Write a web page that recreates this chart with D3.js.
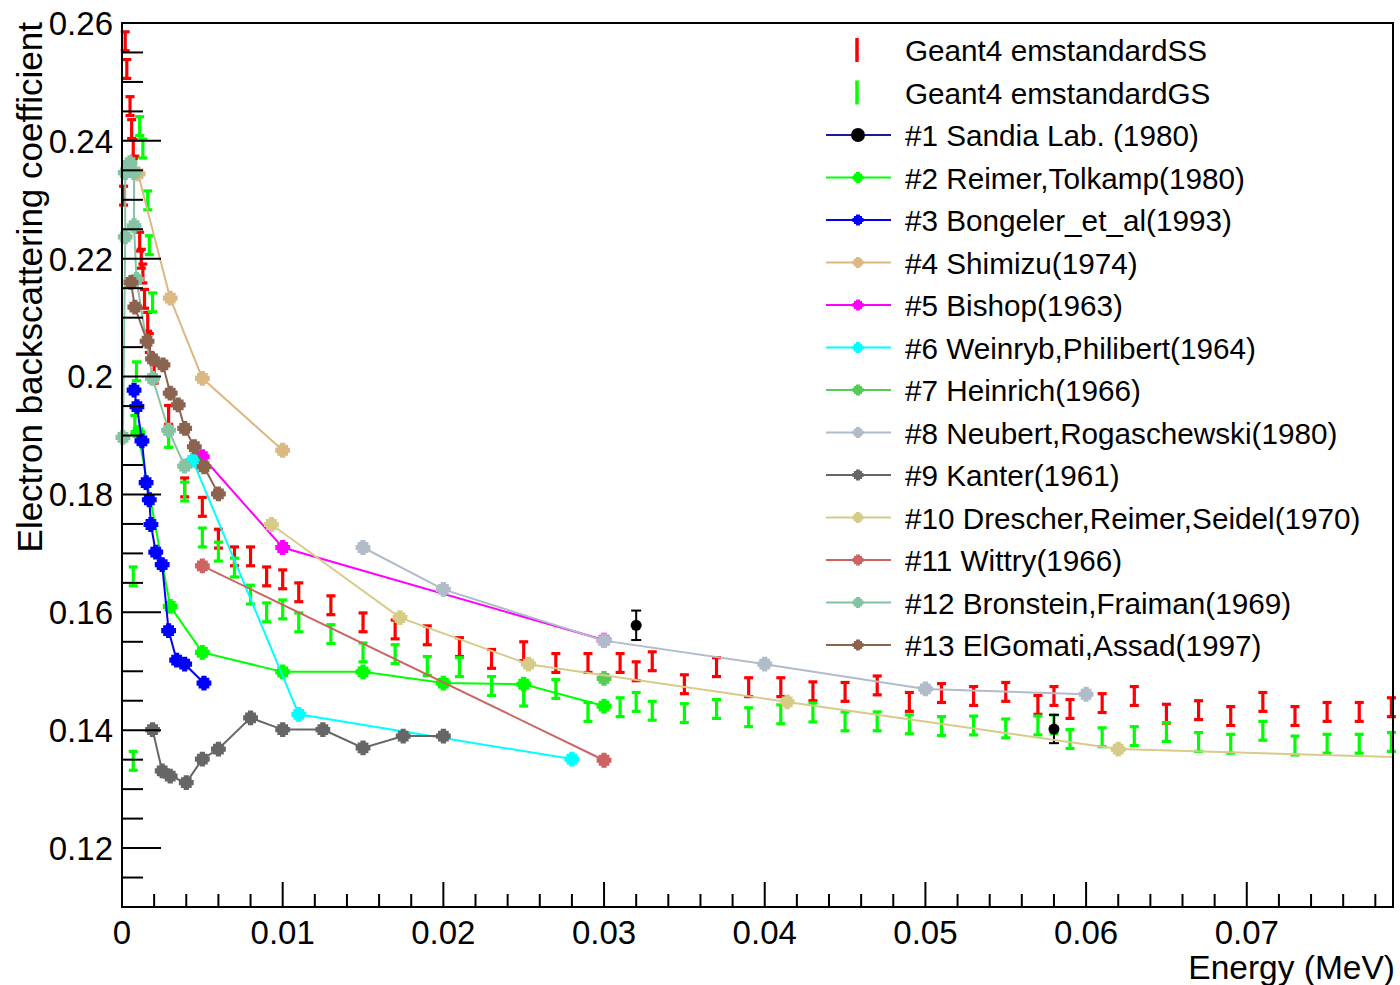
<!DOCTYPE html>
<html><head><meta charset="utf-8">
<script src="https://cdn.jsdelivr.net/npm/d3@7"></script>
<style>
body{margin:0;background:#fff;}
text{font-family:"Liberation Sans",Arial,Helvetica,sans-serif;fill:#000;}
</style>
</head><body>
<svg id="chart" width="1400" height="985"></svg>
<script>
// ---------------- data ----------------
const xDomain = [0, 0.0791];
const yDomain = [0.11, 0.26];
const xTickValues = [0, 0.01, 0.02, 0.03, 0.04, 0.05, 0.06, 0.07];
const xTickLabels = ["0", "0.01", "0.02", "0.03", "0.04", "0.05", "0.06", "0.07"];
const yTickValues = [0.12, 0.14, 0.16, 0.18, 0.20, 0.22, 0.24, 0.26];
const yTickLabels = ["0.12", "0.14", "0.16", "0.18", "0.2", "0.22", "0.24", "0.26"];
const xTitle = "Energy (MeV)";
const yTitle = "Electron backscattering coefficient";

// Geant4 emstandardSS (red)
const ssEnergy = [0.0002,0.0003,0.0005,0.0006,0.0007,0.0008,0.0001,0.0011,0.0012,0.0013,0.0014,0.0016,0.0017,0.0020,
  0.0029,0.0039,0.005,0.006,0.007,0.008,0.009,0.010,0.011,0.013,0.015,0.017,0.019,0.021,0.023,0.025,0.027,0.029,
  0.031,0.032,0.033,0.035,0.037,0.039,0.041,0.043,0.045,0.047,0.049,0.051,0.053,0.055,0.057,0.058,0.059,0.061,
  0.063,0.065,0.067,0.069,0.071,0.073,0.075,0.077,0.079];
const ssCoef = [0.2569,0.2522,0.2459,0.2420,0.2386,0.2358,0.2307,0.2229,0.2200,0.2175,0.2132,0.2093,0.2057,0.2005,
  0.1935,0.1812,0.1779,0.1725,0.1695,0.1695,0.1661,0.1656,0.1634,0.1612,0.1583,0.1571,0.1561,0.1541,0.1521,0.1534,0.1514,0.1514,
  0.1514,0.1500,0.1517,0.1478,0.1507,0.1473,0.1473,0.1466,0.1465,0.1476,0.1448,0.1463,0.1458,0.1465,0.1443,0.1458,0.1436,0.1446,
  0.1458,0.1428,0.1434,0.1424,0.1448,0.1424,0.1431,0.1431,0.1439];
const ssError = 0.0016;

// Geant4 emstandardGS (green)
const gsEnergy = [0.0007,0.0007,0.0008,0.0009,0.0011,0.0013,0.0016,0.0017,0.0019,
  0.0029,0.0039,0.005,0.006,0.007,0.008,0.009,0.010,0.011,
  0.013,0.015,0.017,0.019,0.021,0.023,0.025,0.027,0.029,
  0.031,0.032,0.033,0.035,0.037,0.039,0.041,0.043,0.045,0.047,0.049,
  0.051,0.053,0.055,0.057,0.058,0.059,0.061,0.063,0.065,0.067,0.069,0.071,0.073,0.075,0.077,0.079];
const gsCoef = [0.1348,0.1661,0.1918,0.2009,0.2425,0.2387,0.2299,0.2223,0.2126,
  0.1896,0.1805,0.1727,0.1703,0.1676,0.1630,0.1600,0.1605,0.1583,
  0.1563,0.1532,0.1529,0.1509,0.1507,0.1475,0.1457,0.1470,0.1431,
  0.1439,0.1448,0.1433,0.1429,0.1436,0.1422,0.1427,0.1430,0.1415,0.1415,0.1410,
  0.1407,0.1408,0.1403,0.1408,0.1410,0.1385,0.1388,0.1390,0.1397,0.1380,0.1377,0.1399,0.1374,0.1377,0.1377,0.1380];
const gsError = 0.0016;

// Experimental data sets
const expNames = ["#1 Sandia Lab. (1980)", "#2 Reimer,Tolkamp(1980)", "#3 Bongeler_et_al(1993)", "#4 Shimizu(1974)",
  "#5 Bishop(1963)", "#6 Weinryb,Philibert(1964)", "#7 Heinrich(1966)", "#8 Neubert,Rogaschewski(1980)",
  "#9 Kanter(1961)", "#10 Drescher,Reimer,Seidel(1970)", "#11 Wittry(1966)", "#12 Bronstein,Fraiman(1969)",
  "#13 ElGomati,Assad(1997)"];
const expLineColors = ["#1a1aa0", "#00ff00", "#0000ff", "#dcb883", "#ff00ff", "#00ffff", "#55cc55", "#b0bcc8",
  "#666666", "#d6cc88", "#cd6464", "#84c4a2", "#8b6450"];
const expMarkerColors = ["#000000", "#00ff00", "#0000ff", "#dcb883", "#ff00ff", "#00ffff", "#55cc55", "#b0bcc8",
  "#666666", "#d6cc88", "#cd6464", "#84c4a2", "#8b6450"];

const e1Energy = [0.032, 0.058];
const e1Coef   = [0.1578, 0.1402];
const e1Error  = [0.0025, 0.0024];
const e2Energy = [0.001, 0.003, 0.005, 0.010, 0.015, 0.020, 0.025, 0.030];
const e2Coef   = [0.1905, 0.1610, 0.1532, 0.1499, 0.1499, 0.1480, 0.1478, 0.1441];
const e3Energy = [0.00075, 0.00093, 0.00124, 0.0015, 0.0017, 0.0018, 0.0021, 0.0025, 0.0029, 0.0034, 0.0039, 0.0051];
const e3Coef   = [0.1977, 0.1949, 0.1891, 0.1820, 0.1791, 0.1749, 0.1702, 0.1681, 0.1569, 0.1519, 0.1512, 0.1480];
const e4Energy = [0.001, 0.003, 0.005, 0.010];
const e4Coef   = [0.2344, 0.2133, 0.1997, 0.1875];
const e5Energy = [0.005, 0.010, 0.030];
const e5Coef   = [0.1864, 0.1710, 0.1553];
const e6Energy = [0.0044, 0.011, 0.028];
const e6Coef   = [0.1858, 0.1427, 0.1351];
const e7Energy = [0.030];
const e7Coef   = [0.1488];
const e8Energy = [0.015, 0.020, 0.030, 0.040, 0.050, 0.060];
const e8Coef   = [0.1710, 0.1639, 0.1552, 0.1512, 0.1470, 0.1461];
const e9Energy = [0.0019, 0.0025, 0.003, 0.004, 0.005, 0.006, 0.008, 0.010, 0.0125, 0.015, 0.0175, 0.020];
const e9Coef   = [0.1401, 0.1331, 0.1322, 0.1311, 0.1351, 0.1368, 0.1421, 0.1401, 0.1401, 0.1370, 0.1390, 0.1390];
const e10Energy = [0.0093, 0.0173, 0.0253, 0.0414, 0.062, 0.100];
const e10Coef   = [0.1749, 0.1591, 0.1512, 0.1448, 0.1368, 0.1338];
const e11Energy = [0.005, 0.030];
const e11Coef   = [0.1679, 0.1349];
const e12Energy = [0.00006, 0.0002, 0.0002, 0.0005, 0.00075, 0.00075, 0.0009, 0.0019, 0.0029, 0.0039];
const e12Coef   = [0.1897, 0.2237, 0.2346, 0.2363, 0.2346, 0.2256, 0.2165, 0.1997, 0.1909, 0.1848];
const e13Energy = [0.00056, 0.0008, 0.00156, 0.0019, 0.00255, 0.003, 0.0035, 0.0039, 0.0045, 0.0051, 0.006];
const e13Coef   = [0.2160, 0.2118, 0.2060, 0.2030, 0.2020, 0.1972, 0.1952, 0.1912, 0.1881, 0.1847, 0.1801];

const expEnergies = [e1Energy, e2Energy, e3Energy, e4Energy, e5Energy, e6Energy, e7Energy, e8Energy, e9Energy, e10Energy, e11Energy, e12Energy, e13Energy];
const expCoefs = [e1Coef, e2Coef, e3Coef, e4Coef, e5Coef, e6Coef, e7Coef, e8Coef, e9Coef, e10Coef, e11Coef, e12Coef, e13Coef];

// ---------------- layout ----------------
const frame = {left: 122, right: 1393, top: 23, bottom: 907};
const svg = d3.select("#chart");
const x = d3.scaleLinear().domain(xDomain).range([frame.left, frame.right]);
const y = d3.scaleLinear().domain(yDomain).range([frame.bottom, frame.top]);

svg.append("rect").attr("width", 1400).attr("height", 985).attr("fill", "#fff");
svg.append("defs").append("clipPath").attr("id", "clipFrame")
  .append("rect").attr("x", frame.left).attr("y", frame.top)
  .attr("width", frame.right - frame.left).attr("height", frame.bottom - frame.top);

function crossPath(s) {
  const a = 2.6 * s, b = 5.4 * s, c = 7.4 * s;
  return `M${-a},${-c}H${a}V${-b}H${b}V${-a}H${c}V${a}H${b}V${b}H${a}V${c}H${-a}V${b}H${-b}V${a}H${-c}V${-a}H${-b}V${-b}H${-a}Z`;
}

// ---------------- error-bar series (Geant4) ----------------
function drawErrSeries(energy, coef, err, color) {
  const g = svg.append("g");
  const pts = energy.map((e, i) => ({x: e, y: coef[i]}));
  g.selectAll("line.stem").data(pts).join("line")
    .attr("x1", d => x(d.x)).attr("x2", d => x(d.x))
    .attr("y1", d => y(d.y - err)).attr("y2", d => y(d.y + err))
    .attr("stroke", color).attr("stroke-width", 3.2);
  [-1, 1].forEach(sgn => {
    g.selectAll("line.cap" + sgn).data(pts).join("line")
      .attr("x1", d => x(d.x) - 4.5).attr("x2", d => x(d.x) + 4.5)
      .attr("y1", d => y(d.y + sgn * err)).attr("y2", d => y(d.y + sgn * err))
      .attr("stroke", color).attr("stroke-width", 3.2);
  });
}
drawErrSeries(ssEnergy, ssCoef, ssError, "#ff0000");
drawErrSeries(gsEnergy, gsCoef, gsError, "#00ff00");

// ---------------- experimental series ----------------
const line = d3.line().x(d => x(d.x)).y(d => y(d.y));
expNames.forEach((name, k) => {
  const pts = expEnergies[k].map((e, i) => ({x: e, y: expCoefs[k][i]}));
  const g = svg.append("g");
  if (k === 0) {
    const errs = e1Error;
    g.selectAll("line.st").data(pts).join("line")
      .attr("x1", d => x(d.x)).attr("x2", d => x(d.x))
      .attr("y1", (d, i) => y(d.y - errs[i])).attr("y2", (d, i) => y(d.y + errs[i]))
      .attr("stroke", "#000").attr("stroke-width", 2);
    [-1, 1].forEach(sgn => {
      g.selectAll("line.c" + sgn).data(pts).join("line")
        .attr("x1", d => x(d.x) - 5).attr("x2", d => x(d.x) + 5)
        .attr("y1", (d, i) => y(d.y + sgn * errs[i])).attr("y2", (d, i) => y(d.y + sgn * errs[i]))
        .attr("stroke", "#000").attr("stroke-width", 2);
    });
    g.selectAll("circle").data(pts).join("circle")
      .attr("cx", d => x(d.x)).attr("cy", d => y(d.y)).attr("r", 5.5)
      .attr("fill", expMarkerColors[k]);
    return;
  }
  if (pts.length > 1) {
    g.append("path").datum(pts).attr("d", line)
      .attr("fill", "none").attr("stroke", expLineColors[k]).attr("stroke-width", 2)
      .attr("clip-path", "url(#clipFrame)");
  }
  g.selectAll("path.m").data(pts.filter(d => d.x <= xDomain[1])).join("path")
    .attr("class", "m")
    .attr("transform", d => `translate(${x(d.x)},${y(d.y)})`)
    .attr("d", crossPath(1)).attr("fill", expMarkerColors[k]);
});

// ---------------- frame & axes ----------------
const axisG = svg.append("g").attr("stroke", "#000").attr("stroke-width", 2);
axisG.append("rect").attr("x", frame.left).attr("y", frame.top)
  .attr("width", frame.right - frame.left).attr("height", frame.bottom - frame.top)
  .attr("fill", "none");

const yMinor = d3.range(0, 31).map(i => yDomain[0] + i * 0.005).filter(v => v <= yDomain[1] + 1e-9 && v > yDomain[0] + 1e-9);
axisG.selectAll("line.ym").data(yMinor).join("line")
  .attr("x1", frame.left).attr("y1", d => y(d)).attr("y2", d => y(d))
  .attr("x2", d => frame.left + (yTickValues.some(t => Math.abs(t - d) < 1e-9) ? 39 : 21));

const xMinor = d3.range(0, 40).map(i => i * 0.002).filter(v => v > 1e-9 && v < xDomain[1]);
axisG.selectAll("line.xm").data(xMinor).join("line")
  .attr("x1", d => x(d)).attr("x2", d => x(d)).attr("y1", frame.bottom)
  .attr("y2", d => frame.bottom - (xTickValues.some(t => Math.abs(t - d) < 1e-9) ? 25 : 13));

svg.selectAll("text.yt").data(yTickValues).join("text")
  .attr("x", 113).attr("y", d => y(d)).attr("dy", "0.36em")
  .attr("text-anchor", "end").attr("font-size", 33)
  .text((d, i) => yTickLabels[i]);
svg.selectAll("text.xt").data(xTickValues).join("text")
  .attr("x", d => x(d)).attr("y", 944)
  .attr("text-anchor", "middle").attr("font-size", 33)
  .text((d, i) => xTickLabels[i]);

svg.append("text").attr("x", 1395).attr("y", 979).attr("text-anchor", "end")
  .attr("font-size", 33.5).text(xTitle);
svg.append("text").attr("transform", "translate(42,22) rotate(-90)")
  .attr("text-anchor", "end").attr("font-size", 35).text(yTitle);

// ---------------- legend ----------------
const legendNames = ["Geant4 emstandardSS", "Geant4 emstandardGS"].concat(expNames);
const legY0 = 50, legDY = 42.5;
const leg = svg.append("g");
legendNames.forEach((name, i) => {
  const cy = legY0 + i * legDY;
  if (i < 2) {
    leg.append("line").attr("x1", 857).attr("x2", 857).attr("y1", cy - 12).attr("y2", cy + 12)
      .attr("stroke", i === 0 ? "#ff0000" : "#00ff00").attr("stroke-width", 3.5);
  } else {
    const k = i - 2;
    leg.append("line").attr("x1", 826).attr("x2", 891).attr("y1", cy).attr("y2", cy)
      .attr("stroke", expLineColors[k]).attr("stroke-width", 2);
    if (k === 0) {
      leg.append("circle").attr("cx", 858).attr("cy", cy).attr("r", 7).attr("fill", "#000");
    } else {
      leg.append("path").attr("transform", `translate(858,${cy})`).attr("d", crossPath(0.75))
        .attr("fill", expMarkerColors[k]);
    }
  }
  leg.append("text").attr("x", 905).attr("y", cy + 11).attr("font-size", 29.7).text(name);
});
</script>
</body></html>
